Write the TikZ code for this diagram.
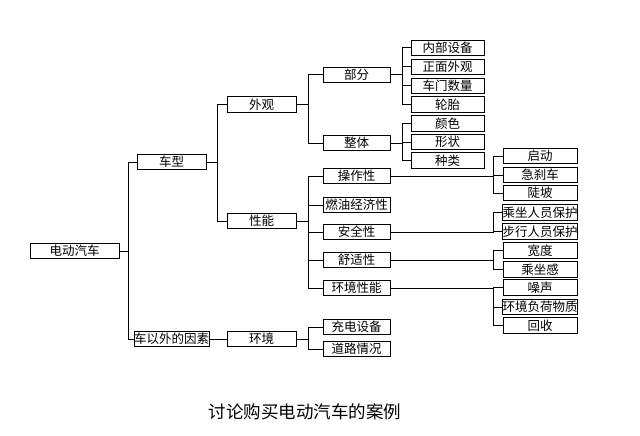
\documentclass[tikz,border=0pt]{standalone}
\usepackage{fontspec}
\newfontfamily\cjk{Noto Sans CJK SC}

\begin{document}
\begin{tikzpicture}[
  x=1pt, y=-1pt,
  every node/.style={font=\cjk\fontsize{12.5}{12.5}\selectfont},
  box/.style={draw, line width=1pt, inner xsep=0pt, inner ysep=0pt,
              minimum height=15.5pt},
  rootbox/.style={box, minimum width=89pt},
  lvlbox/.style={box, minimum width=69pt},
  midbox/.style={box, minimum width=67pt},
  leafbox/.style={box, minimum width=73pt},
  tipbox/.style={box, minimum width=74pt},
  link/.style={line width=1pt}
]
\useasboundingbox (0,0) rectangle (640,436);

\node[rootbox] (ev) at (74.5,251) {电动汽车};

\node[lvlbox] (model) at (171.5,162) {车型};
\node[lvlbox] (outside) at (171.5,339) {车以外的因素};

\node[lvlbox] (look) at (261.5,104.5) {外观};
\node[lvlbox] (perf) at (261.5,221) {性能};
\node[lvlbox] (env) at (261.5,339) {环境};

\node[midbox] (parts) at (356.5,75) {部分};
\node[midbox] (whole) at (356.5,143) {整体};
\node[midbox] (handling) at (356.5,176) {操作性};
\node[midbox] (fuel) at (356.5,205) {燃油经济性};
\node[midbox] (safety) at (356.5,232) {安全性};
\node[midbox] (comfort) at (356.5,260) {舒适性};
\node[midbox] (ecoperf) at (356.5,288) {环境性能};
\node[midbox] (charging) at (356.5,327) {充电设备};
\node[midbox] (road) at (356.5,349) {道路情况};

\node[leafbox] (inner) at (447.5,48) {内部设备};
\node[leafbox] (front) at (447.5,67) {正面外观};
\node[leafbox] (doors) at (447.5,86) {车门数量};
\node[leafbox] (tyre) at (447.5,104.5) {轮胎};
\node[leafbox] (colour) at (447.5,123.5) {颜色};
\node[leafbox] (shape) at (447.5,142) {形状};
\node[leafbox] (kind) at (447.5,160.5) {种类};

\node[tipbox] (start) at (540,156) {启动};
\node[tipbox] (brake) at (540,175) {急刹车};
\node[tipbox] (slope) at (540,193) {陡坡};
\node[tipbox] (occupant) at (540,212.5) {乘坐人员保护};
\node[tipbox] (pedestrian) at (540,231.5) {步行人员保护};
\node[tipbox] (wide) at (540,250.5) {宽度};
\node[tipbox] (ride) at (540,269.5) {乘坐感};
\node[tipbox] (noise) at (540,287.5) {噪声};
\node[tipbox] (load) at (540,307) {环境负荷物质};
\node[tipbox] (recycle) at (540,325.5) {回收};

\node[font=\cjk\fontsize{17.5}{18}\selectfont] (title) at (305,412) {讨论购买电动汽车的案例};

\foreach \n in {model,outside}
  \draw[link] (ev.east) -- ++(9,0) |- (\n.west);
\foreach \n in {look,perf}
  \draw[link] (model.east) -- ++(11,0) |- (\n.west);
\draw[link] (outside) -- (env);
\foreach \n in {parts,whole}
  \draw[link] (look.east) -- ++(12,0) |- (\n.west);
\foreach \n in {handling,fuel,safety,comfort,ecoperf}
  \draw[link] (perf.east) -- ++(12,0) |- (\n.west);
\foreach \n in {charging,road}
  \draw[link] (env.east) -- ++(12,0) |- (\n.west);
\foreach \n in {inner,front,doors,tyre}
  \draw[link] (parts.east) -- ++(12,0) |- (\n.west);
\foreach \n in {colour,shape,kind}
  \draw[link] (whole.east) -- ++(12,0) |- (\n.west);
\foreach \n in {start,brake,slope}
  \draw[link] (handling.east) -- ++(103,0) |- (\n.west);
\foreach \n in {occupant,pedestrian}
  \draw[link] (safety.east) -- ++(103,0) |- (\n.west);
\foreach \n in {wide,ride}
  \draw[link] (comfort.east) -- ++(103,0) |- (\n.west);
\foreach \n in {noise,load,recycle}
  \draw[link] (ecoperf.east) -- ++(103,0) |- (\n.west);

\end{tikzpicture}
\end{document}
